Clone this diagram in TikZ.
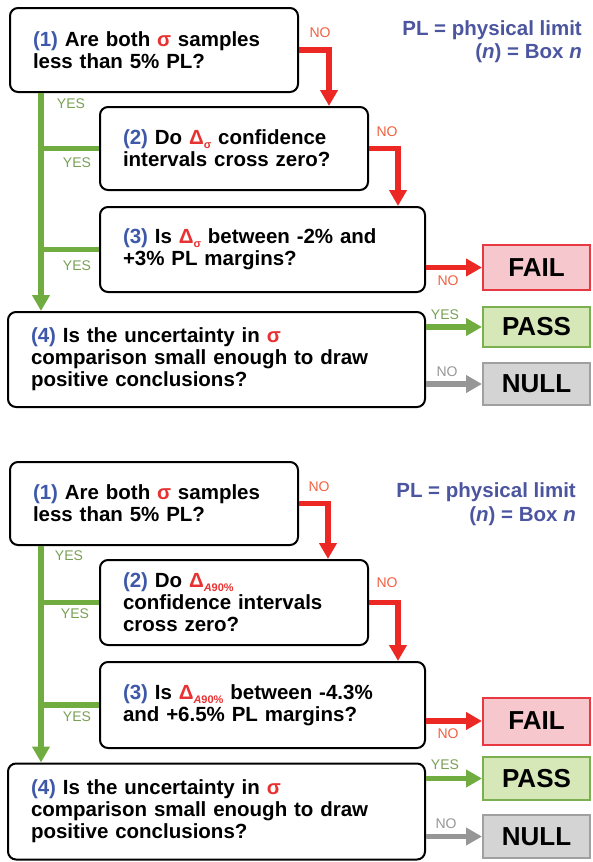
\documentclass[tikz,border=0pt]{standalone}
\usepackage{fontspec}
\setmainfont{Liberation Sans}
\usetikzlibrary{arrows.meta}

\definecolor{qblue}{RGB}{62,88,170}
\definecolor{legblue}{RGB}{76,86,160}
\definecolor{sigred}{RGB}{232,50,50}
\definecolor{nored}{RGB}{236,40,36}
\definecolor{nolab}{RGB}{240,96,64}
\definecolor{yesgreen}{RGB}{112,172,64}
\definecolor{yeslab}{RGB}{120,160,84}
\definecolor{failfill}{RGB}{246,200,206}
\definecolor{failline}{RGB}{232,56,66}
\definecolor{passfill}{RGB}{214,232,184}
\definecolor{passline}{RGB}{122,176,80}
\definecolor{nullfill}{RGB}{212,212,212}
\definecolor{nullline}{RGB}{160,160,160}
\definecolor{nullarrow}{RGB}{150,150,150}

\newcommand\qnum[1]{\textcolor{qblue}{(#1)}}
\newcommand\sig{\textcolor{sigred}{σ}}
\newcommand\dsub[1]{\textcolor{sigred}{Δ\raisebox{-0.35ex}{\fontsize{11}{11}\selectfont #1}}}

\begin{document}
\begin{tikzpicture}[x=1pt,y=-1pt,
  qbox/.style={draw=black, line width=2pt, rounded corners=8pt, fill=white,
    inner xsep=23pt, inner ysep=4pt, align=left,
    font=\bfseries\fontsize{20.5}{22}\selectfont},
  outbox/.style={line width=2pt, minimum width=107, inner sep=0pt,
    font=\bfseries\fontsize{26}{28}\selectfont},
  failbox/.style={outbox, draw=failline, fill=failfill},
  passbox/.style={outbox, draw=passline, fill=passfill},
  nullbox/.style={outbox, draw=nullline, fill=nullfill},
  tipshape/.style={-{Triangle[length=16pt,width=17pt]}},
  redarr/.style={draw=nored, line width=5.5pt, tipshape},
  greenarr/.style={draw=yesgreen, line width=5.5pt, tipshape},
  greenline/.style={draw=yesgreen, line width=5.5pt},
  grayarr/.style={draw=nullarrow, line width=5.5pt, tipshape},
  nolabel/.style={text=nolab, inner sep=0pt, font=\fontsize{14}{14}\selectfont},
  yeslabel/.style={text=yeslab, inner sep=0pt, font=\fontsize{14}{14}\selectfont},
  graylabel/.style={text=nullarrow, inner sep=0pt, font=\fontsize{14}{14}\selectfont},
  legend/.style={text=legblue, inner sep=0pt, anchor=base east,
    font=\bfseries\fontsize{20.5}{22}\selectfont}
]
\useasboundingbox (0,0) rectangle (593,862);

% ---------- upper chart: sigma ----------
\node[qbox, minimum width=288, minimum height=84, text width=242] (t1) at (154,50)
  {\qnum{1} Are both \sig{} samples\\less than 5\% PL?};
\node[qbox, minimum width=268, minimum height=83, text width=222] (t2) at (234,148.5)
  {\qnum{2} Do \dsub{σ} confidence\\intervals cross zero?};
\node[qbox, minimum width=325, minimum height=85, text width=279] (t3) at (262.5,249.5)
  {\qnum{3} Is \dsub{σ} between -2\% and\\+3\% PL margins?};
\node[qbox, minimum width=417, minimum height=95, text width=371] (t4) at (216.5,359.5)
  {\qnum{4} Is the uncertainty in \sig\\comparison small enough to draw\\positive conclusions?};
\node[failbox, minimum height=45] (tfail) at (536.5,267.5) {FAIL};
\node[passbox, minimum height=40] (tpass) at (536.5,327) {PASS};
\node[nullbox, minimum height=42] (tnull) at (536.5,384) {NULL};

\node[legend] (tleg1) at (582,35) {PL = physical limit};
\node[legend] (tleg2) at (582,58) {(\textit{n}) = Box \textit{n}};

\coordinate (tg) at (41,0);
\draw[greenline] (tg |- t2.west) -- (t2.west);
\draw[greenline] (tg |- t3.west) -- (t3.west);
\draw[greenarr] (tg |- t1.south) -- (tg |- t4.north);
\draw[redarr] (t1.east) -| ([xshift=95pt]t2.north);
\draw[redarr] (t2.east) -| ([xshift=135.5pt]t3.north);
\draw[redarr] (t3.east |- tfail.west) -- (tfail.west);
\draw[greenarr] (t4.east |- tpass.west) -- (tpass.west);
\draw[grayarr] (t4.east |- tnull.west) -- (tnull.west);

\node[yeslabel] (ty1) at (71,104) {YES};
\node[yeslabel] (ty2) at (77,163) {YES};
\node[yeslabel] (ty3) at (77,266) {YES};
\node[nolabel] (tn1) at (320,33) {NO};
\node[nolabel] (tn2) at (387,132) {NO};
\node[nolabel] (tn3) at (448,281) {NO};
\node[yeslabel] (ty4) at (445,315) {YES};
\node[graylabel] (tn4) at (447,372) {NO};

% ---------- lower chart: A90% ----------
\node[qbox, minimum width=288, minimum height=83, text width=242] (b1) at (154,503.5)
  {\qnum{1} Are both \sig{} samples\\less than 5\% PL?};
\node[qbox, minimum width=268, minimum height=85, text width=222] (b2) at (234,602.5)
  {\qnum{2} Do \dsub{\textit{A}90\%}\\confidence intervals\\cross zero?};
\node[qbox, minimum width=325, minimum height=86, text width=279] (b3) at (262.5,705)
  {\qnum{3} Is \dsub{\textit{A}90\%} between -4.3\%\\and +6.5\% PL margins?};
\node[qbox, minimum width=417, minimum height=96, text width=371] (b4) at (216.5,811.5)
  {\qnum{4} Is the uncertainty in \sig\\comparison small enough to draw\\positive conclusions?};
\node[failbox, minimum height=47] (bfail) at (536.5,721) {FAIL};
\node[passbox, minimum height=43] (bpass) at (536.5,778.5) {PASS};
\node[nullbox, minimum height=43] (bnull) at (536.5,836.5) {NULL};

\node[legend] (bleg1) at (576,497) {PL = physical limit};
\node[legend] (bleg2) at (576,521) {(\textit{n}) = Box \textit{n}};

\coordinate (bg) at (41,0);
\draw[greenline] (bg |- b2.west) -- (b2.west);
\draw[greenline] (bg |- b3.west) -- (b3.west);
\draw[greenarr] (bg |- b1.south) -- (bg |- b4.north);
\draw[redarr] (b1.east) -| ([xshift=94pt]b2.north);
\draw[redarr] (b2.east) -| ([xshift=135.5pt]b3.north);
\draw[redarr] (b3.east |- bfail.west) -- (bfail.west);
\draw[greenarr] (b4.east |- bpass.west) -- (bpass.west);
\draw[grayarr] (b4.east |- bnull.west) -- (bnull.west);

\node[yeslabel] (by1) at (69,556) {YES};
\node[yeslabel] (by2) at (75,614) {YES};
\node[yeslabel] (by3) at (77,717) {YES};
\node[nolabel] (bn1) at (319,487) {NO};
\node[nolabel] (bn2) at (387,583) {NO};
\node[nolabel] (bn3) at (448,734) {NO};
\node[yeslabel] (by4) at (445,765) {YES};
\node[graylabel] (bn4) at (446,824) {NO};
\end{tikzpicture}
\end{document}
